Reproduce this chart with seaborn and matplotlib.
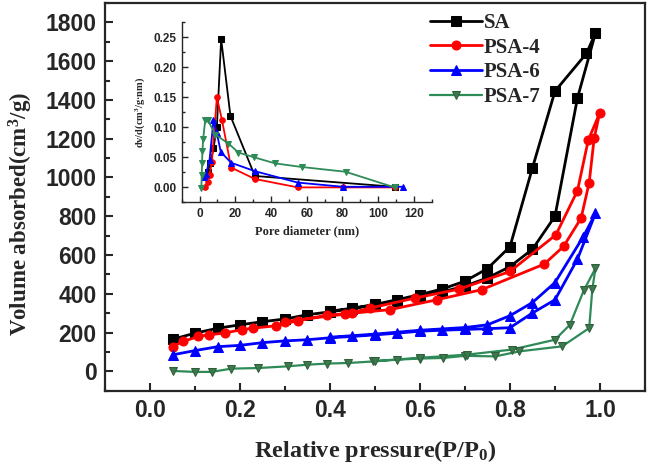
import numpy as np
import pandas as pd
import matplotlib
matplotlib.use("Agg")
import matplotlib.pyplot as plt
import seaborn as sns
from matplotlib.ticker import MultipleLocator

# -------- Isotherm data (adsorption then desorption branch) --------
sa_p = [0.05, 0.10, 0.15, 0.20, 0.25, 0.30, 0.35, 0.40, 0.45, 0.50, 0.55, 0.60, 0.65,
        0.70, 0.75, 0.80, 0.85, 0.90, 0.95, 0.99,
        0.97, 0.90, 0.85, 0.80, 0.75, 0.70, 0.65, 0.60, 0.55, 0.50, 0.45, 0.40]
sa_v = [165, 197, 222, 240, 256, 270, 292, 307, 324, 342, 362, 386, 410,
        440, 482, 540, 630, 800, 1410, 1745,
        1640, 1445, 1050, 643, 530, 465, 425, 396, 370, 345, 326, 310]

psa4_p = [0.05, 0.074, 0.107, 0.13, 0.167, 0.204, 0.23, 0.28, 0.33, 0.393, 0.45, 0.533,
          0.637, 0.737, 0.876, 0.919, 0.958, 0.976, 0.987, 0.999,
          0.974, 0.95, 0.902, 0.80, 0.687, 0.589, 0.489, 0.433, 0.30]
psa4_v = [128, 154, 180, 188, 198, 215, 223, 235, 262, 290, 300, 318,
          369, 421, 553, 644, 790, 973, 1201, 1330,
          1193, 932, 704, 515, 424, 378, 326, 295, 257]

psa6_p = [0.05, 0.10, 0.15, 0.20, 0.25, 0.30, 0.35, 0.40, 0.45, 0.50, 0.55, 0.60,
          0.65, 0.70, 0.75, 0.80, 0.85, 0.90, 0.95, 0.99,
          0.963, 0.90, 0.85, 0.80, 0.75, 0.70, 0.60, 0.50, 0.40]
psa6_v = [85, 107, 127, 134, 148, 157, 163, 173, 180, 188, 197, 207,
          212, 216, 220, 225, 301, 369, 579, 815,
          695, 458, 355, 287, 240, 226, 212, 192, 176]

psa7_p = [0.05, 0.10, 0.137, 0.181, 0.241, 0.307, 0.348, 0.393, 0.441, 0.496, 0.548,
          0.60, 0.652, 0.70, 0.767, 0.821, 0.916, 0.976, 0.983, 0.99,
          0.964, 0.933, 0.90, 0.804, 0.704, 0.60, 0.50]
psa7_v = [2, -3, -3, 14, 17, 26, 34, 40, 43, 51, 60,
          66, 69, 80, 77, 103, 129, 223, 424, 532,
          417, 240, 163, 112, 86, 70, 53]

# -------- Pore size distribution (inset) --------
sa_d = [3.5, 4.5, 6.0, 7.8, 9.7, 12.1, 17.3, 31.0, 109.3]
sa_dv = [0.020, 0.025, 0.040, 0.065, 0.101, 0.247, 0.119, 0.019, 0.001]

psa4_d = [3.2, 4.5, 5.6, 6.9, 9.7, 12.5, 17.7, 31.0, 55.0, 80.4, 109.3]
psa4_dv = [0.001, 0.009, 0.020, 0.043, 0.150, 0.113, 0.033, 0.014, 0.000, 0.000, 0.000]

psa6_d = [2.3, 3.7, 5.6, 7.8, 9.7, 11.9, 17.7, 31.0, 55.0, 80.4, 114.0]
psa6_dv = [0.018, 0.023, 0.046, 0.112, 0.090, 0.059, 0.041, 0.027, 0.008, 0.001, 0.001]

psa7_d = [1.0, 1.2, 1.4, 1.6, 2.0, 3.2, 4.5, 8.8, 16.2, 21.8, 30.7, 42.3, 57.2, 81.8, 109.3]
psa7_dv = [-0.001, 0.020, 0.041, 0.060, 0.080, 0.113, 0.113, 0.088, 0.073, 0.058,
           0.050, 0.040, 0.034, 0.026, 0.000]

labels = ["SA", "PSA-4", "PSA-6", "PSA-7"]
colors = ["#000000", "#ff0000", "#0000ff", "#2e8b57"]
markers = ["s", "o", "^", "v"]

# -------- Style --------
sns.set_style("ticks")
plt.rcParams["font.family"] = ["Liberation Sans", "DejaVu Sans"]
plt.rcParams["font.weight"] = "bold"
plt.rcParams["mathtext.fontset"] = "custom"
plt.rcParams["mathtext.rm"] = "Liberation Serif:bold"
plt.rcParams["mathtext.it"] = "Liberation Serif:bold"
plt.rcParams["mathtext.bf"] = "Liberation Serif:bold"
plt.rcParams["mathtext.default"] = "rm"

serif = ["Liberation Serif", "DejaVu Serif"]

fig = plt.figure(figsize=(6.49, 4.74), dpi=100)
ax = fig.add_axes([0.1618, 0.1757, 0.832, 0.8180])

# -------- Main isotherms --------
iso = [(sa_p, sa_v), (psa4_p, psa4_v), (psa6_p, psa6_v), (psa7_p, psa7_v)]
for (p, v), lab, c, m in zip(iso, labels, colors, markers):
    green = lab == "PSA-7"
    sns.lineplot(x=p, y=v, sort=False, estimator=None, ax=ax, color=c,
                 marker=m, markersize=6.5 if not green else 6,
                 markeredgecolor=c if not green else "#2f5f3a",
                 markerfacecolor=c if not green else "#3c7a4c",
                 linewidth=2.0 if not green else 1.6, label=lab)

ax.set_xlim(-0.1, 1.1)
ax.set_ylim(-100, 1900)
ax.xaxis.set_major_locator(MultipleLocator(0.2))
ax.xaxis.set_minor_locator(MultipleLocator(0.1))
ax.yaxis.set_major_locator(MultipleLocator(200))
ax.yaxis.set_minor_locator(MultipleLocator(100))
ax.tick_params(which="both", direction="in", top=False, right=False, width=1.5)
ax.tick_params(which="major", length=6, labelsize=16.5, pad=6)
ax.tick_params(which="minor", length=3.5)
ax.set_xticklabels([f"{t:.1f}" for t in ax.get_xticks()], fontweight="bold")
ax.set_yticklabels([f"{t:.0f}" for t in ax.get_yticks()], fontweight="bold")
for s in ax.spines.values():
    s.set_linewidth(1.6)

ax.set_xlabel(r"Relative pressure(P/P$_0$)", family=serif, fontsize=17.5,
              fontweight="bold", va="center")
ax.set_ylabel(r"Volume absorbed(cm$^3$/g)", family=serif, fontsize=16.5,
              fontweight="bold", va="center")
ax.xaxis.set_label_coords(0.5, -0.155)
ax.yaxis.set_label_coords(-0.155, 0.455)

leg = ax.legend(loc="upper left", bbox_to_anchor=(0.567, 1.022), frameon=False,
                handlelength=2.5, handletextpad=0.1, labelspacing=0.22,
                prop={"family": serif, "weight": "bold", "size": 15})

# -------- Inset: pore size distribution --------
ins = fig.add_axes([0.280, 0.573, 0.385, 0.380])
psd = [(sa_d, sa_dv), (psa4_d, psa4_dv), (psa6_d, psa6_dv), (psa7_d, psa7_dv)]
for (d, dv), c, m in zip(psd, colors, markers):
    sns.lineplot(x=d, y=dv, sort=False, estimator=None, ax=ins, color=c,
                 marker=m, markersize=4, markeredgecolor=c,
                 linewidth=1.3, legend=False)

ins.set_xlim(-10, 130)
ins.set_ylim(-0.025, 0.275)
ins.xaxis.set_major_locator(MultipleLocator(20))
ins.xaxis.set_minor_locator(MultipleLocator(10))
ins.yaxis.set_major_locator(MultipleLocator(0.05))
ins.yaxis.set_minor_locator(MultipleLocator(0.025))
ins.set_yticks([0, 0.05, 0.10, 0.15, 0.20, 0.25])
ins.tick_params(which="both", direction="in", top=False, right=False, width=1.0)
ins.tick_params(which="major", length=4, labelsize=8.5, pad=4)
ins.tick_params(which="minor", length=2.5)
ins.set_xticklabels([f"{t:.0f}" for t in ins.get_xticks()], fontweight="bold")
ins.set_yticklabels([f"{t:.2f}" for t in ins.get_yticks()], fontweight="bold")
ins.spines["top"].set_visible(False)
ins.spines["right"].set_visible(False)
for s in ["left", "bottom"]:
    ins.spines[s].set_linewidth(1.0)
ins.patch.set_alpha(0)

ins.set_xlabel("Pore diameter (nm)", family=serif, fontsize=9, fontweight="bold")
ins.set_ylabel(r"dv/d(cm$^3$/g·nm)", family=serif, fontsize=7.5, fontweight="bold")

fig.savefig("out.png", dpi=100)
